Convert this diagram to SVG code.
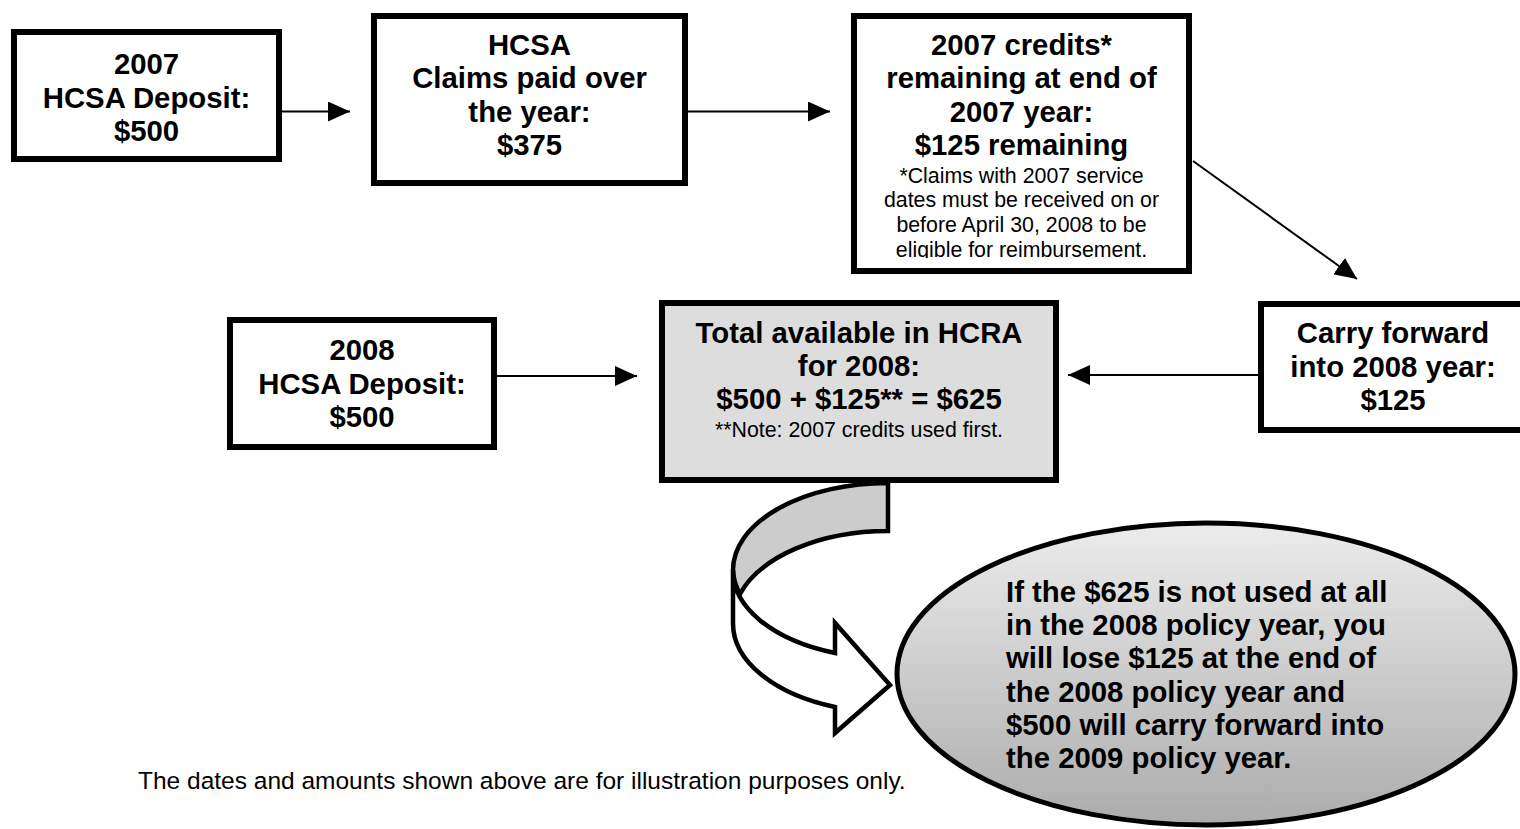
<svg xmlns="http://www.w3.org/2000/svg" width="1520" height="829" viewBox="0 0 1520 829">
  <style>
    .box { fill: #ffffff; stroke: #000000; stroke-width: 6; }
    .gray { fill: #dddddd; }
    .t { font-family: "Liberation Sans", Arial, sans-serif; font-weight: bold; font-size: 29.33px; fill: #000000; text-anchor: middle; }
    .s { font-family: "Liberation Sans", Arial, sans-serif; font-weight: normal; font-size: 21.33px; fill: #000000; text-anchor: middle; }
    .l { text-anchor: start; }
    .foot { font-family: "Liberation Sans", Arial, sans-serif; font-weight: normal; font-size: 24.5px; fill: #000000; }
    .conn { stroke: #000000; stroke-width: 2; fill: none; }
    .band { stroke: #000000; stroke-width: 4.5; stroke-linejoin: miter; }
  </style>
  <defs>
    <marker id="head" markerUnits="userSpaceOnUse" markerWidth="22" markerHeight="20" refX="22" refY="10" orient="auto">
      <path d="M0,0 L22,10 L0,20 Z" fill="#000000"/>
    </marker>
    <linearGradient id="ellGrad" x1="0" y1="0" x2="0" y2="1">
      <stop offset="0" stop-color="#ececec"/>
      <stop offset="1" stop-color="#acacac"/>
    </linearGradient>
    <clipPath id="clip3">
      <rect x="854" y="160" width="335" height="98"/>
    </clipPath>
  </defs>

  <g id="connectors">
    <line class="conn" x1="282" y1="111.5" x2="350" y2="111.5" marker-end="url(#head)"/>
    <line class="conn" x1="688" y1="111.5" x2="830" y2="111.5" marker-end="url(#head)"/>
    <line class="conn" x1="1193" y1="161" x2="1357" y2="279" marker-end="url(#head)"/>
    <line class="conn" x1="497" y1="376" x2="637" y2="376" marker-end="url(#head)"/>
    <line class="conn" x1="1258" y1="375" x2="1068" y2="375" marker-end="url(#head)"/>
    <g id="curved-arrow">
      <path class="band" fill="#cccccc" d="M888,483 A155,87 0 0 0 733,570 A155,87 0 0 0 740,594 A155,90 0 0 1 888,531 Z"/>
      <path class="band" fill="#ffffff" d="M733,570 L733,623 A155,89 0 0 0 835,707 L835,733 L890,685 L835,623 L835,653 A155,87 0 0 1 733,570 Z"/>
    </g>
  </g>

  <g id="node-2007-deposit">
    <rect class="box" x="14" y="32" width="265" height="127"/>
    <text class="t" x="146.5" y="74">2007</text>
    <text class="t" x="146.5" y="107.5">HCSA Deposit:</text>
    <text class="t" x="146.5" y="141">$500</text>
  </g>

  <g id="node-claims-paid">
    <rect class="box" x="374" y="16" width="311" height="167"/>
    <text class="t" x="529.5" y="55">HCSA</text>
    <text class="t" x="529.5" y="88">Claims paid over</text>
    <text class="t" x="529.5" y="122">the year:</text>
    <text class="t" x="529.5" y="155">$375</text>
  </g>

  <g id="node-2007-credits">
    <rect class="box" x="854" y="16" width="335" height="255"/>
    <text class="t" x="1021.5" y="55">2007 credits*</text>
    <text class="t" x="1021.5" y="88">remaining at end of</text>
    <text class="t" x="1021.5" y="122">2007 year:</text>
    <text class="t" x="1021.5" y="155">$125 remaining</text>
    <g clip-path="url(#clip3)">
      <text class="s" x="1021.5" y="183">*Claims with 2007 service</text>
      <text class="s" x="1021.5" y="207">dates must be received on or</text>
      <text class="s" x="1021.5" y="232">before April 30, 2008 to be</text>
      <text class="s" x="1021.5" y="257">eligible for reimbursement.</text>
    </g>
  </g>

  <g id="node-2008-deposit">
    <rect class="box" x="230" y="320" width="264" height="127"/>
    <text class="t" x="362" y="360">2008</text>
    <text class="t" x="362" y="393.5">HCSA Deposit:</text>
    <text class="t" x="362" y="427">$500</text>
  </g>

  <g id="node-total-2008">
    <rect class="box gray" x="662" y="303" width="394" height="177"/>
    <text class="t" x="859" y="343">Total available in HCRA</text>
    <text class="t" x="859" y="376">for 2008:</text>
    <text class="t" x="859" y="409">$500 + $125** = $625</text>
    <text class="s" x="859" y="437">**Note: 2007 credits used first.</text>
  </g>

  <g id="node-carry-forward">
    <rect class="box" x="1261" y="304" width="264" height="126"/>
    <text class="t" x="1393" y="343">Carry forward</text>
    <text class="t" x="1393" y="377">into 2008 year:</text>
    <text class="t" x="1393" y="410">$125</text>
  </g>

  <g id="node-outcome">
    <ellipse cx="1206" cy="674" rx="309" ry="151" fill="url(#ellGrad)" stroke="#000000" stroke-width="5"/>
    <text class="t l" x="1006" y="602">If the $625 is not used at all</text>
    <text class="t l" x="1006" y="635">in the 2008 policy year, you</text>
    <text class="t l" x="1006" y="668">will lose $125 at the end of</text>
    <text class="t l" x="1006" y="702">the 2008 policy year and</text>
    <text class="t l" x="1006" y="735">$500 will carry forward into</text>
    <text class="t l" x="1006" y="768">the 2009 policy year.</text>
  </g>

  <text id="footer" class="foot" x="138" y="789">The dates and amounts shown above are for illustration purposes only.</text>
</svg>
